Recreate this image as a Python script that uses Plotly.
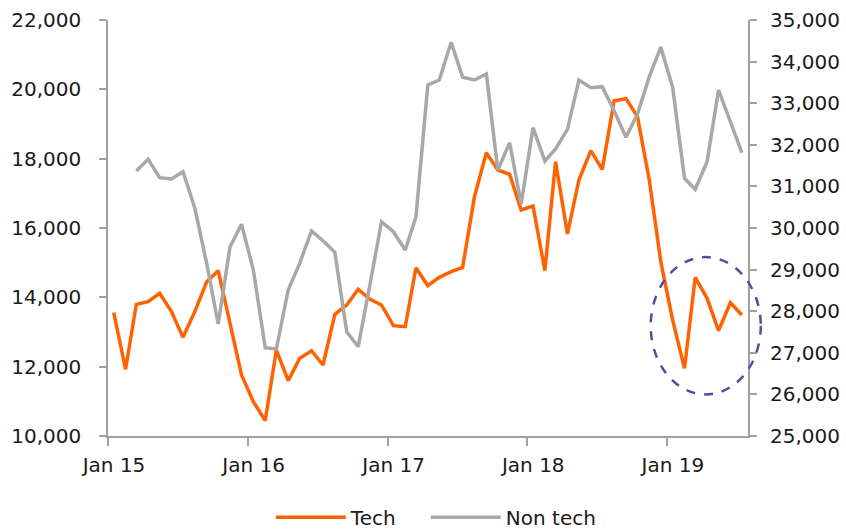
import pandas as pd
import plotly.graph_objects as go

# Monthly, Jan 2015 - Jul 2019
months = pd.date_range("2015-01-01", periods=55, freq="MS") + pd.Timedelta(days=15)

tech = [13557, 11923, 13798, 13874, 14115, 13587, 12846, 13587, 14452, 14769,
        13250, 11760, 10990, 10442, 12481, 11596, 12240, 12460, 12048, 13510,
        13779, 14231, 13942, 13779, 13182, 13153, 14855, 14336, 14577, 14740,
        14865, 16904, 18173, 17673, 17548, 16519, 16635, 14769, 17913, 15827,
        17385, 18231, 17692, 19673, 19731, 19212, 17385, 15030, 13346, 11952,
        14577, 13971, 13038, 13845, 13490]

non_tech = [None, None, 31370, 31651, 31209, 31178, 31353, 30473, 29151, 27692,
            29550, 30089, 28990, 27122, 27091, 28509, 29151, 29928, 29694, 29415,
            27507, 27146, 28650, 30151, 29911, 29471, 30271, 33437, 33558, 34464,
            33622, 33558, 33702, 31394, 32050, 30577, 32411, 31610, 31899, 32372,
            33558, 33373, 33397, 32820, 32180, 32737, 33637, 34350, 33382, 31194,
            30930, 31594, 33317, 32579, 31810]

left_ticks = list(range(10000, 22001, 2000))
right_ticks = list(range(25000, 35001, 1000))

ORANGE = "#FF6200"
GREY = "#A8A8A8"
AXIS = "#A0A0A0"
FONT = dict(family="DejaVu Sans", size=20, color="#1a1a1a")

fig = go.Figure()
fig.add_trace(go.Scatter(x=months, y=tech, name="Tech", mode="lines",
                         line=dict(color=ORANGE, width=3.5), legendwidth=70))
fig.add_trace(go.Scatter(x=months, y=non_tech, name="Non tech", mode="lines",
                         line=dict(color=GREY, width=3.5), yaxis="y2"))

fig.update_layout(
    width=846, height=531,
    margin=dict(l=108, r=98, t=20, b=95, autoexpand=False),
    plot_bgcolor="white", paper_bgcolor="white",
    font=FONT,
    showlegend=True,
    legend=dict(orientation="h", xref="paper", x=0.513, xanchor="center",
                yref="container", y=0.026, yanchor="middle",
                font=FONT, itemwidth=70, traceorder="normal"),
    xaxis=dict(type="date", range=["2015-01-01", "2019-08-01"],
               tick0="2015-01-01", dtick="M12", tickformat="%b %y",
               ticks="outside", ticklen=8, tickcolor=AXIS, tickwidth=1.5,
               showline=True, linecolor=AXIS, linewidth=1.5,
               showgrid=False, zeroline=False, ticklabelshift=6,
               ticklabelstandoff=2, tickfont=FONT, automargin=False),
    yaxis=dict(range=[10000, 22000], tickvals=left_ticks,
               tickformat=",d", ticks="outside", ticklen=7, tickcolor=AXIS,
               tickwidth=1.5, showline=True, linecolor=AXIS, linewidth=1.5,
               showgrid=False, zeroline=False, ticklabelstandoff=14,
               tickfont=FONT, automargin=False),
    yaxis2=dict(range=[25000, 35000], tickvals=right_ticks,
                tickformat=",d", overlaying="y", side="right",
                ticks="outside", ticklen=7, tickcolor=AXIS, tickwidth=1.5,
                showline=True, linecolor=AXIS, linewidth=2,
                showgrid=False, zeroline=False, ticklabelstandoff=9,
                tickfont=FONT, automargin=False),
    shapes=[dict(type="circle", xref="paper", yref="paper",
                 x0=0.848, x1=1.020, y0=0.100, y1=0.430,
                 line=dict(color="#4F4F9A", width=2.5, dash="dash"))],
)

fig.write_html(
    "out.html",
    config={"displayModeBar": False},
    post_script="document.body.style.margin='0';"
                "document.documentElement.style.overflow='hidden';",
)
